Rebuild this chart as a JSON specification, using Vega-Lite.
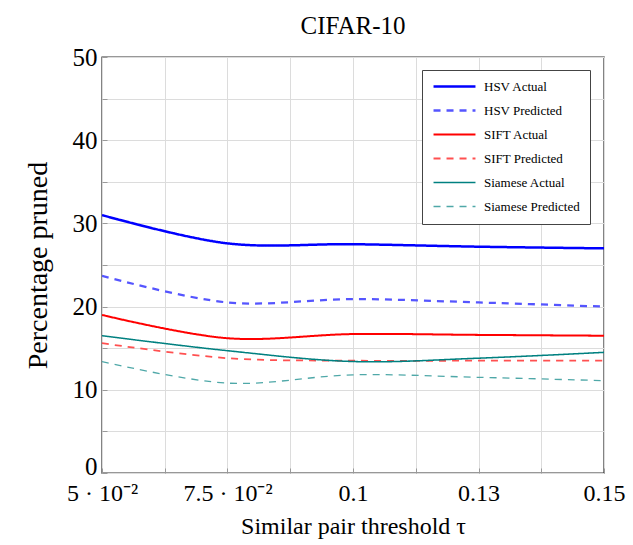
{
  "$schema": "https://vega.github.io/schema/vega-lite/v6.json",
  "autosize": "none",
  "width": 502,
  "height": 416,
  "padding": {"left": 102, "top": 57, "right": 29, "bottom": 72},
  "background": "white",
  "title": {"text": "CIFAR-10", "font": "Liberation Serif", "fontSize": 25, "fontWeight": "normal", "color": "black", "offset": 6},
  "config": {
    "view": {"stroke": "#333", "strokeWidth": 1.4},
    "axis": {"labelFont": "Liberation Serif", "titleFont": "Liberation Serif", "labelColor": "black", "titleColor": "black", "titleFontWeight": "normal", "gridColor": "#dcdcdc", "gridWidth": 1, "domain": false, "tickColor": "#999", "tickSize": -5}
  },
  "data": {"values": [
    {"x": 0.05, "v": 31.0, "s": "HSV Actual"},
    {"x": 0.075, "v": 27.6, "s": "HSV Actual"},
    {"x": 0.1, "v": 27.5, "s": "HSV Actual"},
    {"x": 0.125, "v": 27.2, "s": "HSV Actual"},
    {"x": 0.15, "v": 27.0, "s": "HSV Actual"},
    {"x": 0.05, "v": 23.7, "s": "HSV Predicted"},
    {"x": 0.075, "v": 20.5, "s": "HSV Predicted"},
    {"x": 0.1, "v": 20.9, "s": "HSV Predicted"},
    {"x": 0.125, "v": 20.5, "s": "HSV Predicted"},
    {"x": 0.15, "v": 20.0, "s": "HSV Predicted"},
    {"x": 0.05, "v": 19.0, "s": "SIFT Actual"},
    {"x": 0.075, "v": 16.2, "s": "SIFT Actual"},
    {"x": 0.1, "v": 16.7, "s": "SIFT Actual"},
    {"x": 0.125, "v": 16.6, "s": "SIFT Actual"},
    {"x": 0.15, "v": 16.5, "s": "SIFT Actual"},
    {"x": 0.05, "v": 15.6, "s": "SIFT Predicted"},
    {"x": 0.075, "v": 13.8, "s": "SIFT Predicted"},
    {"x": 0.1, "v": 13.5, "s": "SIFT Predicted"},
    {"x": 0.125, "v": 13.5, "s": "SIFT Predicted"},
    {"x": 0.15, "v": 13.5, "s": "SIFT Predicted"},
    {"x": 0.05, "v": 16.5, "s": "Siamese Actual"},
    {"x": 0.075, "v": 14.7, "s": "Siamese Actual"},
    {"x": 0.1, "v": 13.4, "s": "Siamese Actual"},
    {"x": 0.125, "v": 13.8, "s": "Siamese Actual"},
    {"x": 0.15, "v": 14.5, "s": "Siamese Actual"},
    {"x": 0.05, "v": 13.4, "s": "Siamese Predicted"},
    {"x": 0.075, "v": 10.8, "s": "Siamese Predicted"},
    {"x": 0.1, "v": 11.8, "s": "Siamese Predicted"},
    {"x": 0.125, "v": 11.5, "s": "Siamese Predicted"},
    {"x": 0.15, "v": 11.1, "s": "Siamese Predicted"}
  ]},
  "mark": {"type": "line", "interpolate": "catmull-rom", "clip": true},
  "encoding": {
    "x": {"field": "x", "type": "quantitative",
      "scale": {"domain": [0.05, 0.15], "nice": false, "zero": false},
      "axis": {"values": [0.05, 0.0625, 0.075, 0.0875, 0.1, 0.1125, 0.125, 0.1375, 0.15],
        "labelExpr": "abs(datum.value-0.05)<1e-6 ? '5 · 10⁻²' : abs(datum.value-0.075)<1e-6 ? '7.5 · 10⁻²' : abs(datum.value-0.1)<1e-6 ? '0.1' : abs(datum.value-0.125)<1e-6 ? '0.13' : abs(datum.value-0.15)<1e-6 ? '0.15' : ''",
        "labelFontSize": 24, "labelPadding": 13, "labelFlush": false, "labelOverlap": false,
        "title": "Similar pair threshold τ", "titleFontSize": 24, "titlePadding": 9}},
    "y": {"field": "v", "type": "quantitative",
      "scale": {"domain": [0, 50], "nice": false},
      "axis": {"values": [0, 5, 10, 15, 20, 25, 30, 35, 40, 45, 50],
        "labelExpr": "datum.value % 10 == 0 ? datum.label : ''",
        "labelFontSize": 25, "labelPadding": 10, "labelOverlap": false,
        "labelOffset": {"condition": {"test": "datum.value == 0", "value": -7}, "value": 0},
        "title": "Percentage pruned", "titleFontSize": 28, "titlePadding": 20}},
    "color": {"field": "s", "type": "nominal",
      "scale": {"domain": ["HSV Actual", "HSV Predicted", "SIFT Actual", "SIFT Predicted", "Siamese Actual", "Siamese Predicted"],
        "range": ["#0000ff", "#5555ff", "#ff0000", "#ff5050", "#008080", "#4fa8a8"]},
      "legend": {"title": null, "orient": "none", "legendX": 320, "legendY": 13,
        "labelFont": "Liberation Serif", "labelFontSize": 13, "labelColor": "black",
        "symbolType": "M-4,0H4", "symbolSize": 110, "rowPadding": 10, "symbolOffset": 16,
        "strokeColor": "#444", "fillColor": "white", "padding": 10, "labelOffset": 23}},
    "strokeDash": {"field": "s", "type": "nominal",
      "scale": {"domain": ["HSV Actual", "HSV Predicted", "SIFT Actual", "SIFT Predicted", "Siamese Actual", "Siamese Predicted"],
        "range": [[1, 0], [7, 6], [1, 0], [7, 6], [1, 0], [7, 6]]}},
    "strokeWidth": {"field": "s", "type": "nominal",
      "scale": {"domain": ["HSV Actual", "HSV Predicted", "SIFT Actual", "SIFT Predicted", "Siamese Actual", "Siamese Predicted"],
        "range": [2.5, 1.3, 2.5, 1.3, 2.5, 1.3]}}
  }
}
